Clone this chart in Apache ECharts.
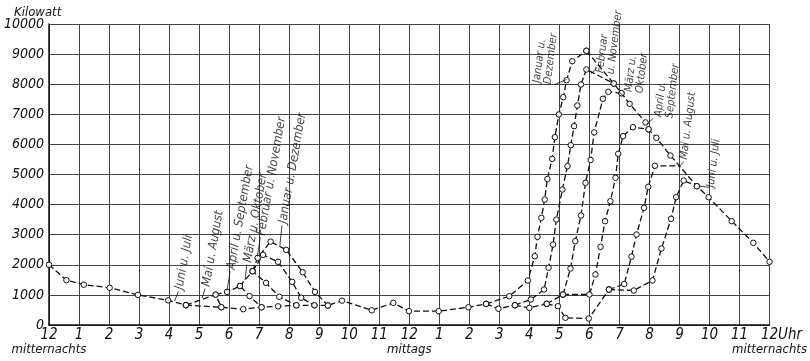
<!DOCTYPE html>
<html>
<head>
<meta charset="utf-8">
<script src="https://cdn.jsdelivr.net/npm/echarts@6/dist/echarts.min.js"></script>
</head>
<body style="margin:0; background:#fff">
<div id="container" style="width:810px; height:361px"></div>
<script>
// hour of day (0..24) , kilowatt
var night = [[0,2000],[0.58,1490],[1.16,1340],[2.02,1235],[2.96,1000],[3.97,820],[4.56,660]];
var dayBase = [[4.56,660],[5.74,590],[6.47,525],[7.08,590],[7.63,620],[8.24,655],[8.84,655],[9.29,648],
  [9.76,810],[10.75,490],[11.47,735],[11.99,460],[12.98,460],[13.97,590],[14.56,700]];

// morning peaks
var maiAm = [[4.56,660],[5.55,1010],[5.74,590]];
var aprilAm = [[5.55,1010],[5.93,1100],[6.36,1295],[6.68,960],[7.08,590]];
var maerzAm = [[6.36,1295],[6.78,1787],[7.23,1400],[7.67,937],[8.24,655]];
var febAm = [[6.78,1787],[7.13,2330],[7.63,2100],[8.10,1435],[8.40,904],[8.84,655]];
var janAm = [[6.78,1787],[6.95,2230],[7.38,2770],[7.90,2495],[8.45,1754],[8.86,1100],[9.29,648]];

// evening peaks
var janPm = [[14.56,700],[15.33,957],[15.95,1478],[16.18,2286],[16.27,2930],[16.40,3561],[16.51,4169],
  [16.60,4850],[16.76,5520],[16.85,6240],[16.98,6993],[17.13,7568],[17.24,8133],[17.43,8764],[17.90,9110]];
var lowPm1 = [[14.56,700],[14.97,540],[15.52,658]];
var febPm = [[15.52,658],[16.05,847],[16.49,1180],[16.64,1900],[16.79,2674],[16.90,3505],[17.10,4502],
  [17.27,5276],[17.38,5973],[17.49,6605],[17.60,7292],[17.72,7990],[17.90,8490],[18.81,8023]];
var lowPm2 = [[15.52,658],[16.00,571],[16.58,704]];
var maerzAprilPm = [[16.58,704],[17.12,1013]];
var maerzPm = [[17.12,1013],[17.37,1877],[17.53,2784],[17.72,3638],[17.87,4724],[18.04,5480],
  [18.16,6400],[18.45,7515],[18.63,7750],[19.07,7700]];
var aprilPm = [[17.12,1013],[18.00,1013],[18.20,1678],[18.37,2598],[18.52,3448],[18.70,4113],
  [18.87,4890],[18.96,5688],[19.12,6273],[19.45,6571],[19.97,6500]];
var maiJuniPm = [[16.58,704],[16.95,625],[17.20,239],[17.98,216],[18.65,1179]];
var maiPm = [[18.65,1179],[19.16,1360],[19.40,2270],[19.57,3007],[19.82,3894],[19.96,4591],[20.18,5290],[21.0,5283]];
var juniPm = [[18.65,1179],[19.48,1146],[20.10,1478],[20.40,2540],[20.72,3528],[20.89,4246],[21.14,4800],[21.58,4611]];
var descent = [[17.90,9110],[18.81,8023],[19.07,7700],[19.34,7349],[19.87,6730],[19.97,6500],[20.23,6219],
  [20.70,5631],[21.58,4611],[21.97,4246],[22.74,3449],[23.46,2731],[24,2100]];

var yTicks = [0,1000,2000,3000,4000,5000,6000,7000,8000,9000,10000];
var dayWords = { 0: 'mitternachts', 12: 'mittags', 24: 'mitternachts' };

// curve names and where they are written
var noteTexts = ['Juni u. Juli','Mai u. August','April u. September','März u. Oktober','Februar u. November','Januar u. Dezember',
  'Januar u.\nDezember','Februar\nu. November','März u.\nOktober','April u.\nSeptember','Mai u. August','Juni u. Juli'];
var noteAnchors = [[4.34,1179],[5.24,1279],[6.07,1844],[6.62,2076],[7.07,2973],[7.79,3372],
  [16.43,8023],[18.53,8355],[19.49,7724],[20.48,6893],[21.15,5498],[22.04,4568]];
var leaders = [
  [[4.31,1113],[4.18,797]],
  [[5.20,1213],[5.10,897]],
  [[6.03,1777],[5.93,1146]],
  [[6.59,2010],[6.53,1495]],
  [[7.04,2907],[6.94,2276]],
  [[7.76,3305],[7.69,2641]],
  [[16.84,7989],[17.24,8156]],
  [[18.26,8554],[18.06,8355]],
  [[19.16,7591],[18.99,7740]],
  [[20.12,6860],[19.92,6677]],
  [[21.15,5432],[20.98,5249]],
  [[22.01,4568],[21.78,4601],[21.64,4618]]
];

var font = 'DejaVu Sans Condensed, DejaVu Sans, sans-serif';

function curve(data, noEndMark) {
  var d = data.map(function (p, i) {
    if (noEndMark && i === data.length - 1) return { value: p, symbol: 'none' };
    return p;
  });
  return {
    type: 'line',
    data: d,
    symbol: 'circle',
    symbolSize: 5.5,
    showAllSymbol: true,
    lineStyle: { color: '#111', width: 1.3, type: [6, 3] },
    itemStyle: { color: '#fff', borderColor: '#111', borderWidth: 1 },
    z: 3,
    silent: true
  };
}

var series = [
  curve(night), curve(dayBase), curve(maiAm), curve(aprilAm), curve(maerzAm), curve(febAm), curve(janAm),
  curve(janPm), curve(lowPm1), curve(febPm), curve(lowPm2), curve(maerzAprilPm), curve(maerzPm),
  curve(aprilPm), curve(maiJuniPm), curve(maiPm, true), curve(juniPm), curve(descent)
];

leaders.forEach(function (l) {
  series.push({
    type: 'line', data: l, symbol: 'none', silent: true, z: 4,
    lineStyle: { color: '#111', width: 0.8, type: 'solid' }
  });
});

series.push({
  type: 'scatter',
  symbolSize: 0,
  silent: true,
  z: 5,
  data: noteAnchors.map(function (p, i) {
    var evening = p[0] > 12;
    return {
      value: p,
      label: {
        formatter: noteTexts[i],
        fontSize: evening ? 11 : 12.5,
        lineHeight: evening ? 11 : 12,
        rotate: evening ? 83 : 80
      }
    };
  }),
  label: {
    show: true,
    position: [0, 0],
    align: 'left',
    verticalAlign: 'middle',
    fontFamily: font,
    fontStyle: 'italic',
    color: '#111'
  }
});

function hourLabel(v) {
  if (v === 0 || v === 12 || v === 24) return '12';
  return String(v % 12);
}

var dom = document.getElementById('container');
var myChart = echarts.init(dom);
var option = {
  animation: false,
  backgroundColor: '#fff',
  title: {
    text: 'Kilowatt', left: 9, top: 1,
    textStyle: { fontFamily: font, fontStyle: 'italic', fontWeight: 'normal', fontSize: 13, color: '#111' }
  },
  grid: { left: 49, right: 37, top: 24, bottom: 36 },
  xAxis: [{
    type: 'value', min: 0, max: 24, interval: 1, position: 'bottom',
    axisLine: { show: true, onZero: false, lineStyle: { color: '#111', width: 1.5 } },
    axisTick: { show: false },
    splitLine: { show: true, lineStyle: { color: '#444', width: 1 } },
    axisLabel: {
      margin: 3, showMaxLabel: true, showMinLabel: true, hideOverlap: false, formatter: hourLabel,
      fontFamily: font, fontStyle: 'italic', fontSize: 15, color: '#111'
    }
  }, {
    // words under the 12 o'clock marks
    type: 'value', min: 0, max: 24, interval: 12, position: 'bottom', offset: 0,
    axisLine: { show: false }, axisTick: { show: false }, splitLine: { show: false },
    axisLabel: {
      margin: 18, showMaxLabel: true, showMinLabel: true,
      fontFamily: font, fontStyle: 'italic', fontSize: 13, color: '#111',
      formatter: function (v) { return dayWords[v] || ''; }
    }
  }, {
    // "Uhr" after the last 12
    type: 'value', min: 0, max: 24, interval: 24, position: 'bottom', offset: 0,
    axisLine: { show: false }, axisTick: { show: false }, splitLine: { show: false },
    axisLabel: {
      margin: 3, showMaxLabel: true, showMinLabel: true, alignMaxLabel: 'left',
      fontFamily: font, fontStyle: 'italic', fontSize: 15, color: '#111',
      formatter: function (v) { return v === 24 ? '\u00a0\u00a0Uhr' : ''; }
    }
  }],
  yAxis: {
    type: 'value', min: 0, max: 10000, interval: 1000,
    axisLine: { show: true, lineStyle: { color: '#111', width: 1.5 } },
    axisTick: { show: false },
    splitLine: { show: true, lineStyle: { color: '#444', width: 1 } },
    axisLabel: {
      margin: 5, hideOverlap: false, fontFamily: font, fontStyle: 'italic', fontSize: 14, color: '#111',
      formatter: function (v) { return yTicks.indexOf(v) >= 0 ? String(v) : ''; }
    }
  },
  series: series
};
myChart.setOption(option);
</script>
</body>
</html>
